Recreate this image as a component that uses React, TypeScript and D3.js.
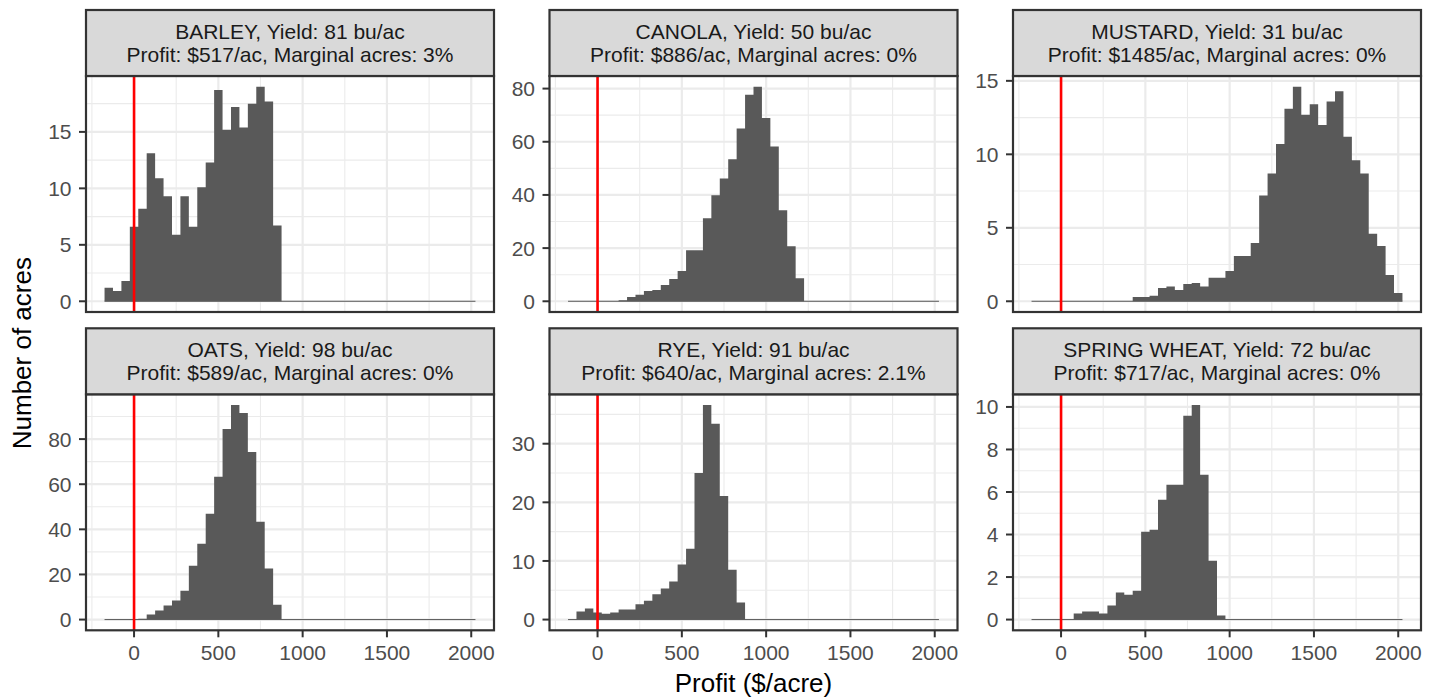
import React, { useEffect, useRef } from 'react';
import * as d3 from 'd3';

// bin centres ($/acre), binwidth 50
const BIN_CENTERS = [
  -150, -100, -50, 0, 50, 100, 150, 200, 250, 300, 350, 400, 450, 500, 550,
  600, 650, 700, 750, 800, 850, 900, 950, 1000, 1050, 1100, 1150, 1200, 1250,
  1300, 1350, 1400, 1450, 1500, 1550, 1600, 1650, 1700, 1750, 1800, 1850, 1900,
  1950, 2000,
];

const BARLEY = [
  1.2, 0.9, 1.8, 6.6, 8.2, 13.1, 10.9, 9.3, 5.9, 9.3, 6.6, 10.1, 12.3, 18.7,
  15.2, 17.2, 15.4, 17.5, 19.0, 17.7, 6.7, 0, 0, 0, 0, 0, 0, 0, 0, 0, 0, 0, 0,
  0, 0, 0, 0, 0, 0, 0, 0, 0, 0, 0,
];
const CANOLA = [
  0, 0, 0, 0, 0, 0, 0.4, 1.6, 2.5, 3.9, 4.25, 6.1, 8.4, 11.4, 19.2, 19.2, 31.2,
  39.9, 46.2, 53.4, 65.0, 77.7, 80.7, 68.9, 58.2, 34.2, 20.7, 8.7, 0, 0, 0, 0,
  0, 0, 0, 0, 0, 0, 0, 0, 0, 0, 0, 0,
];
const MUSTARD = [
  0, 0, 0, 0, 0, 0, 0, 0, 0, 0, 0, 0, 0.29, 0.29, 0.38, 0.9, 1.0, 0.77, 1.18,
  1.24, 1.0, 1.6, 1.6, 2.06, 3.08, 3.08, 3.96, 7.2, 8.7, 10.7, 13.1, 14.6, 12.7,
  13.4, 12.0, 13.6, 14.3, 11.2, 9.6, 8.7, 4.6, 3.76, 1.79, 0.57,
];
const OATS = [
  0, 0, 0, 0.3, 0.4, 2.2, 4.0, 6.2, 8.4, 12.8, 23.9, 33.6, 46.9, 63.3, 84.5,
  95.1, 91.6, 74.3, 43.4, 22.6, 6.6, 0, 0, 0, 0, 0, 0, 0, 0, 0, 0, 0, 0, 0, 0,
  0, 0, 0, 0, 0, 0, 0, 0, 0,
];
const RYE = [
  0, 1.36, 1.9, 1.2, 1.0, 1.2, 1.7, 1.7, 2.6, 3.2, 4.3, 5.3, 6.5, 9.4, 12.1,
  25.0, 36.6, 33.4, 21.1, 8.5, 2.9, 0, 0, 0, 0, 0, 0, 0, 0, 0, 0, 0, 0, 0, 0, 0,
  0, 0, 0, 0, 0, 0, 0, 0,
];
const SPRING_WHEAT = [
  0, 0, 0, 0, 0, 0.28, 0.38, 0.38, 0.28, 0.66, 1.27, 1.17, 1.36, 4.13, 4.23,
  5.63, 6.34, 6.34, 9.58, 10.09, 6.81, 2.77, 0.19, 0, 0, 0, 0, 0, 0, 0, 0, 0, 0,
  0, 0, 0, 0, 0, 0, 0, 0, 0, 0, 0,
];

const CROPS = ['BARLEY', 'CANOLA', 'MUSTARD', 'OATS', 'RYE', 'SPRING WHEAT'];
const YIELDS = [81, 50, 31, 98, 91, 72];
const PROFITS = [517, 886, 1485, 589, 640, 717];
const MARGINAL = ['3%', '0%', '0%', '0%', '2.1%', '0%'];
const SERIES = [BARLEY, CANOLA, MUSTARD, OATS, RYE, SPRING_WHEAT];
const X_TICKS = [0, 500, 1000, 1500, 2000];

const FONT = '"Liberation Sans", Arial, Helvetica, sans-serif';

const App = () => {
  const chartRef = useRef(null);

  useEffect(() => {
    document.body.style.margin = '0';
    const width = 1439;
    const height = 698;
    const panelW = 408;
    const panelH = 236;
    const stripH = 66;
    const colX = [86, 549.5, 1013];
    const rowY = [76, 394.3];
    const binW = 50;

    d3.select(chartRef.current).selectAll('*').remove();

    const svg = d3
      .select(chartRef.current)
      .append('svg')
      .attr('width', width)
      .attr('height', height)
      .style('display', 'block')
      .style('font-family', FONT);

    svg.append('rect').attr('width', width).attr('height', height).attr('fill', '#ffffff');

    // shared x scale, ggplot 5% expansion
    const lo = BIN_CENTERS[0] - binW / 2;
    const hi = BIN_CENTERS[BIN_CENTERS.length - 1] + binW / 2;
    const pad = (hi - lo) * 0.05;
    const x = d3.scaleLinear().domain([lo - pad, hi + pad]).range([0, panelW]);
    const xMinor = X_TICKS.slice(0, -1).map((t, i) => (t + X_TICKS[i + 1]) / 2);
    xMinor.unshift(X_TICKS[0] - 250);

    SERIES.forEach((values, i) => {
      const col = i % 3;
      const row = Math.floor(i / 3);
      const px = colX[col];
      const py = rowY[row];

      const maxV = d3.max(values);
      const y = d3
        .scaleLinear()
        .domain([-maxV * 0.05, maxV * 1.05])
        .range([panelH, 0]);
      const yTicks = y.ticks(5).filter(t => t >= 0);
      const step = yTicks[1] - yTicks[0];
      const yMinor = yTicks
        .map(t => t + step / 2)
        .filter(t => t <= y.domain()[1]);

      const g = svg.append('g').attr('transform', `translate(${px},${py})`);

      g.append('rect').attr('width', panelW).attr('height', panelH).attr('fill', '#ffffff');

      // minor grid
      g.selectAll('line.ymin')
        .data(yMinor)
        .enter()
        .append('line')
        .attr('x1', 0)
        .attr('x2', panelW)
        .attr('y1', d => y(d))
        .attr('y2', d => y(d))
        .attr('stroke', '#ebebeb')
        .attr('stroke-width', 1.1);
      g.selectAll('line.xmin')
        .data(xMinor.filter(t => t >= x.domain()[0]))
        .enter()
        .append('line')
        .attr('x1', d => x(d))
        .attr('x2', d => x(d))
        .attr('y1', 0)
        .attr('y2', panelH)
        .attr('stroke', '#ebebeb')
        .attr('stroke-width', 1.1);

      // major grid
      g.selectAll('line.ymaj')
        .data(yTicks)
        .enter()
        .append('line')
        .attr('x1', 0)
        .attr('x2', panelW)
        .attr('y1', d => y(d))
        .attr('y2', d => y(d))
        .attr('stroke', '#ebebeb')
        .attr('stroke-width', 2.2);
      g.selectAll('line.xmaj')
        .data(X_TICKS)
        .enter()
        .append('line')
        .attr('x1', d => x(d))
        .attr('x2', d => x(d))
        .attr('y1', 0)
        .attr('y2', panelH)
        .attr('stroke', '#ebebeb')
        .attr('stroke-width', 2.2);

      // empty bins show as a hairline along zero
      g.append('line')
        .attr('x1', x(lo))
        .attr('x2', x(hi))
        .attr('y1', y(0))
        .attr('y2', y(0))
        .attr('stroke', '#595959')
        .attr('stroke-width', 1);

      // all bars in one path so neighbouring bins show no seams
      const barPath = d3.path();
      values.forEach((v, j) => {
        if (v <= 0) return;
        const c = BIN_CENTERS[j];
        const x0 = x(c - binW / 2);
        const x1 = x(c + binW / 2);
        barPath.rect(x0, y(v), x1 - x0, y(0) - y(v));
      });
      g.append('path').attr('d', barPath.toString()).attr('fill', '#595959');

      g.append('line')
        .attr('x1', x(0))
        .attr('x2', x(0))
        .attr('y1', 0)
        .attr('y2', panelH)
        .attr('stroke', '#ff0000')
        .attr('stroke-width', 2.6);

      g.append('rect')
        .attr('width', panelW)
        .attr('height', panelH)
        .attr('fill', 'none')
        .attr('stroke', '#333333')
        .attr('stroke-width', 2.2);

      // y axis
      g.selectAll('line.ytick')
        .data(yTicks)
        .enter()
        .append('line')
        .attr('x1', -7)
        .attr('x2', 0)
        .attr('y1', d => y(d))
        .attr('y2', d => y(d))
        .attr('stroke', '#333333')
        .attr('stroke-width', 2);
      g.selectAll('text.ytick')
        .data(yTicks)
        .enter()
        .append('text')
        .attr('x', -14.5)
        .attr('y', d => y(d))
        .attr('dy', '0.36em')
        .attr('text-anchor', 'end')
        .style('font-size', '21px')
        .style('fill', '#4d4d4d')
        .text(d => d);

      // x axis only on the bottom row
      if (row === 1) {
        g.selectAll('line.xtick')
          .data(X_TICKS)
          .enter()
          .append('line')
          .attr('x1', d => x(d))
          .attr('x2', d => x(d))
          .attr('y1', panelH)
          .attr('y2', panelH + 7)
          .attr('stroke', '#333333')
          .attr('stroke-width', 2);
        g.selectAll('text.xtick')
          .data(X_TICKS)
          .enter()
          .append('text')
          .attr('x', d => x(d))
          .attr('y', panelH + 30)
          .attr('text-anchor', 'middle')
          .style('font-size', '21px')
          .style('fill', '#4d4d4d')
          .text(d => d);
      }

      // strip
      const strip = svg.append('g').attr('transform', `translate(${px},${py - stripH})`);
      strip
        .append('rect')
        .attr('width', panelW)
        .attr('height', stripH)
        .attr('fill', '#d9d9d9')
        .attr('stroke', '#333333')
        .attr('stroke-width', 2.2);
      const lines = [
        `${CROPS[i]}, Yield: ${YIELDS[i]} bu/ac`,
        `Profit: $${PROFITS[i]}/ac, Marginal acres: ${MARGINAL[i]}`,
      ];
      lines.forEach((t, k) => {
        strip
          .append('text')
          .attr('x', panelW / 2)
          .attr('y', 29 + k * 22.7)
          .attr('text-anchor', 'middle')
          .style('font-size', '21px')
          .style('fill', '#1a1a1a')
          .text(t);
      });
    });

    svg
      .append('text')
      .attr('x', (colX[0] + colX[2] + panelW) / 2)
      .attr('y', 692)
      .attr('text-anchor', 'middle')
      .style('font-size', '26px')
      .style('fill', '#000000')
      .text('Profit ($/acre)');

    svg
      .append('text')
      .attr('transform', `translate(31, ${(rowY[0] + rowY[1] + panelH) / 2}) rotate(-90)`)
      .attr('text-anchor', 'middle')
      .style('font-size', '26px')
      .style('fill', '#000000')
      .text('Number of acres');
  }, []);

  return <div ref={chartRef}></div>;
};

export default App;
